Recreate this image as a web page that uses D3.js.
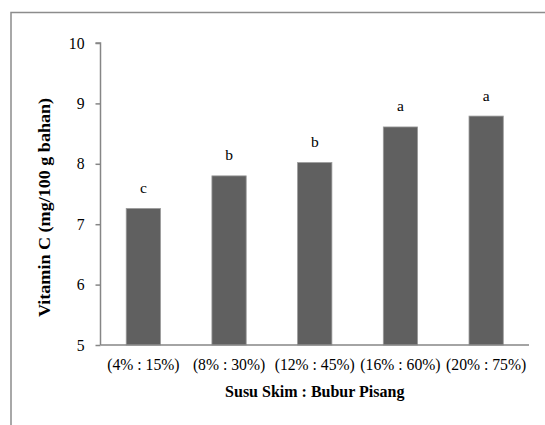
<!DOCTYPE html>
<html>
<head>
<meta charset="utf-8">
<script src="https://cdn.jsdelivr.net/npm/d3@7"></script>
<style>
  html, body { margin: 0; padding: 0; background: #fff; }
  svg { display: block; }
</style>
</head>
<body>
<svg id="chart" width="545" height="425"></svg>
<script>
const categories = ["(4% : 15%)", "(8% : 30%)", "(12% : 45%)", "(16% : 60%)", "(20% : 75%)"];
const values = [7.26, 7.80, 8.02, 8.61, 8.79];
const letters = ["c", "b", "b", "a", "a"];
const yTicks = [5, 6, 7, 8, 9, 10];
const xTitle = "Susu Skim : Bubur Pisang";
const yTitle = "Vitamin C (mg/100 g bahan)";

(function () {
const svg = d3.select("#chart");
const FONT = '"Liberation Serif"';
const axisColor = "#868686";

// outer frame
svg.append("rect")
  .attr("x", 11).attr("y", 12.5)
  .attr("width", 600).attr("height", 500)
  .attr("fill", "none").attr("stroke", "#8c8c8c").attr("stroke-width", 1.5);

const pLeft = 100.5, pRight = 529, pTop = 43, pBottom = 345;

const x = d3.scaleBand().domain(categories).range([pLeft, pRight]).paddingInner(0.6).paddingOuter(0.3);
const y = d3.scaleLinear().domain([5, 10]).range([pBottom, pTop]);

// bars
svg.selectAll("rect.bar").data(values).enter().append("rect")
  .attr("class", "bar")
  .attr("x", (d, i) => x(categories[i]))
  .attr("y", d => y(d))
  .attr("width", x.bandwidth())
  .attr("height", d => y(5) - y(d))
  .attr("fill", "#606060")
  .attr("stroke", "#9a9a9a").attr("stroke-width", 0.8);

// letters
svg.selectAll("text.lbl").data(values).enter().append("text")
  .attr("class", "lbl")
  .attr("x", (d, i) => x(categories[i]) + x.bandwidth() / 2)
  .attr("y", d => y(d) - 15.5)
  .attr("text-anchor", "middle")
  .style("font-family", FONT).style("font-size", "15.5px").attr("fill", "#000")
  .text((d, i) => letters[i]);

// y axis
const yAxis = d3.axisLeft(y).tickValues(yTicks).tickSize(5).tickPadding(11).tickFormat(d3.format("d"));
const gy = svg.append("g").attr("transform", `translate(${pLeft},0)`).call(yAxis);
gy.select(".domain").attr("stroke", axisColor).attr("stroke-width", 1.5).attr("d", `M-5,${pTop}H0V${pBottom}`);
gy.selectAll(".tick line").attr("stroke", axisColor).attr("stroke-width", 1.5);
gy.selectAll(".tick text").style("font-family", FONT).style("font-size", "15.7px").attr("fill", "#000");

// x axis
const xAxis = d3.axisBottom(x).tickSize(0).tickPadding(14);
const gx = svg.append("g").attr("transform", `translate(0,${pBottom})`).call(xAxis);
gx.select(".domain").attr("stroke", axisColor).attr("stroke-width", 1.5).attr("d", `M${pLeft},0H${pRight}`);
gx.selectAll(".tick text").style("font-family", FONT).style("font-size", "15.7px").attr("fill", "#000");

// titles
svg.append("text")
  .attr("x", (pLeft + pRight) / 2).attr("y", 397)
  .attr("text-anchor", "middle")
  .style("font-family", FONT).style("font-size", "16px").style("font-weight", "bold")
  .text(xTitle);

svg.append("text")
  .attr("transform", `translate(50,207.5) rotate(-90) scale(1.13,1)`)
  .attr("text-anchor", "middle")
  .style("font-family", FONT).style("font-size", "16px").style("font-weight", "bold")
  .text(yTitle);
})();
</script>
</body>
</html>
